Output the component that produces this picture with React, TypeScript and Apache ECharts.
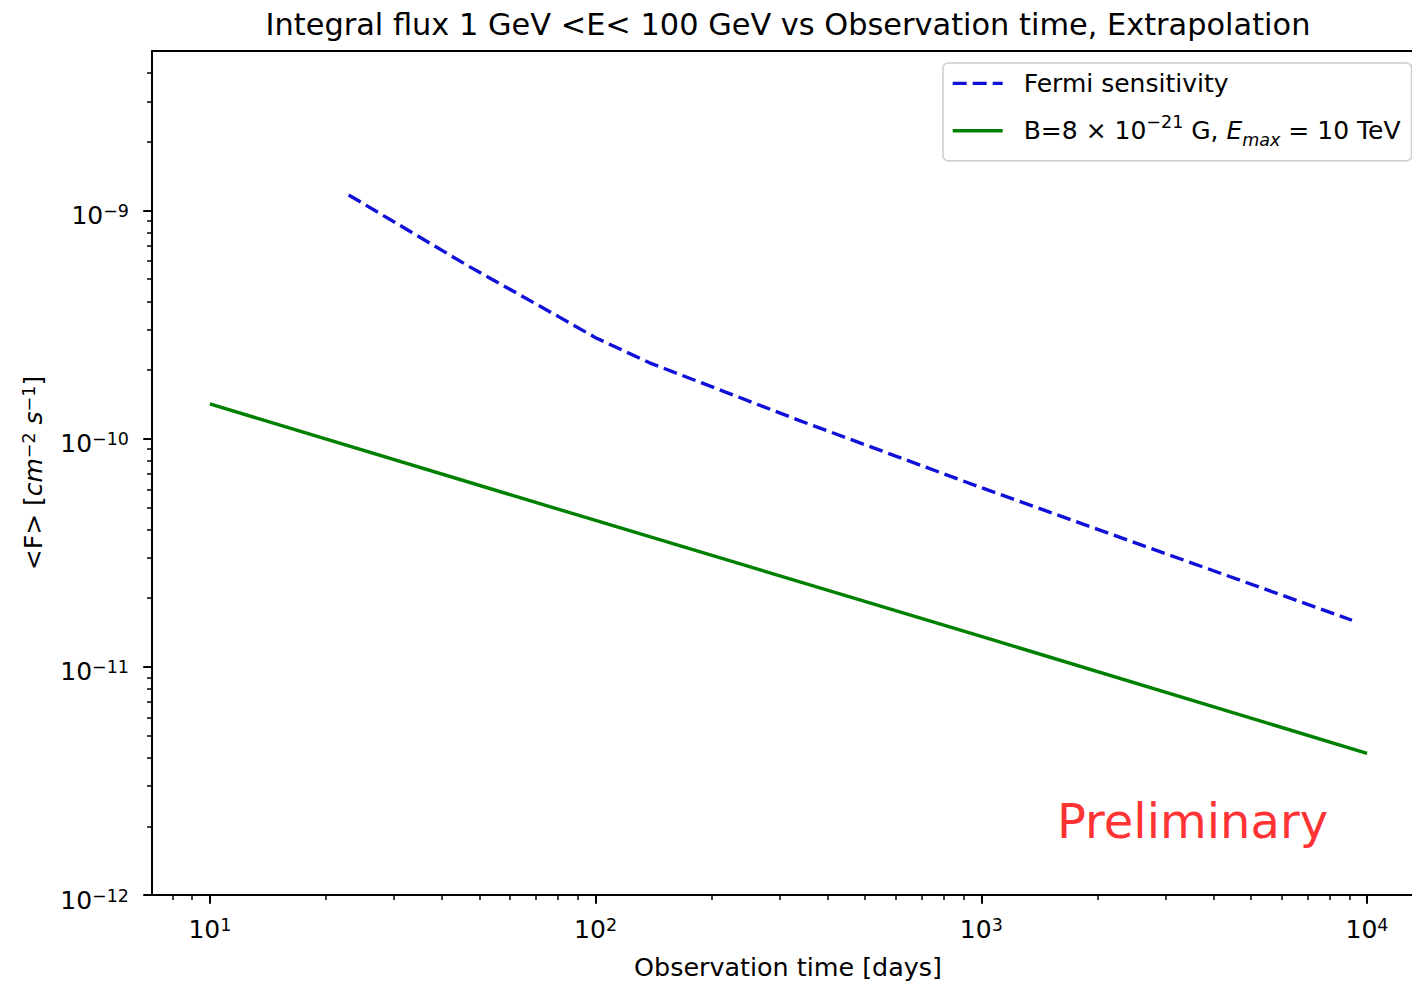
import React, { useEffect, useRef } from "react";
import * as echarts from "echarts";

// ---- data ----
const fermiDays = [22.9, 47.2, 80.8, 100, 138, 338, 1000, 2904, 9140];
const fermiFlux = [1.17e-9, 5.66e-10, 3.4e-10, 2.77e-10, 2.15e-10, 1.2e-10, 6.1e-11, 3.2e-11, 1.6e-11];
const modelDays = [10, 100, 1000, 10000];
const modelFlux = [1.42e-10, 4.38e-11, 1.36e-11, 4.18e-12];

const xMajorExps = [1, 2, 3, 4];
const yMajorExps = [-12, -11, -10, -9];
const minorMultipliers = [2, 3, 4, 5, 6, 7, 8, 9];
const xDecades = [0, 1, 2, 3, 4];
const yDecades = [-12, -11, -10, -9];

// axes range in log10 units (the right part of the plot is cut off at the picture edge)
const X_MIN = 0.85;
const X_MAX = 4.1166;
const Y_MIN = -12;
const Y_MAX = Math.log10(5e-9);

const seriesNames = ["Fermi sensitivity", "B=8 × 10−21 G, Emax = 10 TeV"];

const FONT = "DejaVu Sans";

function minorTicks(decades: number[], lo: number, hi: number) {
  const out: number[] = [];
  decades.forEach((d) =>
    minorMultipliers.forEach((m) => {
      const v = d + Math.log10(m);
      if (v >= lo - 1e-9 && v <= hi - 1e-6) out.push(v);
    })
  );
  return out;
}

const toLog = (xs: number[], ys: number[]) => xs.map((x, i) => [Math.log10(x), Math.log10(ys[i])]);

const expLabel = (v: number) => {
  const e = Math.round(v);
  const s = e < 0 ? "−" + Math.abs(e) : String(e);
  return "{b|10}{s|" + s + "}";
};

const tickRich = {
  b: { fontSize: 25, fontFamily: FONT, color: "#000", lineHeight: 26, verticalAlign: "bottom" },
  s: { fontSize: 17.5, fontFamily: FONT, color: "#000", lineHeight: 13, verticalAlign: "top" },
};

export default function App() {
  const ref = useRef<HTMLDivElement>(null);

  useEffect(() => {
    document.body.style.margin = "0";
    if (!ref.current) return;
    const chart = echarts.init(ref.current, undefined, { renderer: "svg" });

    const axisLine = { show: true, lineStyle: { color: "#000", width: 2 } };
    const baseX = { type: "value", min: X_MIN, max: X_MAX, splitLine: { show: false } };
    const baseY = { type: "value", min: Y_MIN, max: Y_MAX, splitLine: { show: false } };

    const option: any = {
      animation: false,
      backgroundColor: "#fff",
      grid: { left: 152, right: 0, top: 51, bottom: 87, containLabel: false },
      graphic: [
        {
          type: "text",
          x: 788,
          y: 24,
          style: {
            text: "Integral flux 1 GeV <E< 100 GeV vs Observation time, Extrapolation",
            fontFamily: FONT,
            fontSize: 30.4,
            fill: "#000",
            align: "center",
            verticalAlign: "middle",
            textAlign: "center",
            textVerticalAlign: "middle",
          },
        },
        {
          type: "text",
          x: 788,
          y: 967,
          style: {
            text: "Observation time [days]",
            fontFamily: FONT,
            fontSize: 25.4,
            fill: "#000",
            align: "center",
            verticalAlign: "middle",
            textAlign: "center",
            textVerticalAlign: "middle",
          },
        },
        {
          type: "text",
          x: 1057,
          y: 821,
          z: 10,
          style: {
            text: "Preliminary",
            fontFamily: FONT,
            fontSize: 48,
            fill: "#ff3333",
            align: "left",
            verticalAlign: "middle",
            textAlign: "left",
            textVerticalAlign: "middle",
          },
        },
      ],
      legend: {
        show: true,
        orient: "vertical",
        left: 943,
        top: 63,
        padding: [6, 11, 12, 8],
        itemGap: 15,
        itemWidth: 50,
        itemHeight: 36,
        backgroundColor: "rgba(255,255,255,0.8)",
        borderColor: "#cccccc",
        borderWidth: 1.5,
        borderRadius: 5,
        data: seriesNames,
        itemStyle: { opacity: 0 },
        lineStyle: { width: 3.4 },
        formatter: (name: string) =>
          name === seriesNames[0]
            ? "{g| }{t|Fermi sensitivity}"
            : "{g| }{t|B=8 × 10}{sp|−21}{t| G, }{it|E}{sb|max}{t| = 10 TeV}",
        textStyle: {
          fontFamily: FONT,
          fontSize: 25,
          color: "#000",
          rich: {
            g: { width: 16, fontSize: 25, lineHeight: 36 },
            t: { fontFamily: FONT, fontSize: 25, color: "#000", lineHeight: 36 },
            it: { fontFamily: FONT, fontStyle: "italic", fontSize: 25, color: "#000", lineHeight: 36 },
            sp: { fontFamily: FONT, fontSize: 17.5, color: "#000", lineHeight: 10, verticalAlign: "top" },
            sb: { fontFamily: FONT, fontStyle: "italic", fontSize: 17.5, color: "#000", lineHeight: 20, verticalAlign: "bottom" },
          },
        },
      },
      xAxis: [
        {
          ...baseX,
          position: "bottom",
          axisLine,
          axisTick: { show: true, inside: false, length: 8.75, customValues: xMajorExps, lineStyle: { color: "#000", width: 2 } },
          axisLabel: {
            show: true,
            customValues: xMajorExps,
            margin: 21,
            formatter: expLabel,
            rich: tickRich,
          },
        },
        {
          ...baseX,
          position: "bottom",
          axisLine: { show: false },
          axisTick: { show: true, inside: false, length: 5, customValues: minorTicks(xDecades, X_MIN, X_MAX), lineStyle: { color: "#000", width: 1.5 } },
          axisLabel: { show: false },
        },
        {
          ...baseX,
          position: "top",
          axisLine,
          axisTick: { show: false },
          axisLabel: { show: false },
        },
      ],
      yAxis: [
        {
          ...baseY,
          position: "left",
          axisLine,
          axisTick: { show: true, inside: false, length: 8.75, customValues: yMajorExps, lineStyle: { color: "#000", width: 2 } },
          axisLabel: {
            show: true,
            customValues: yMajorExps,
            margin: 23,
            padding: [9, 0, 0, 0],
            formatter: expLabel,
            rich: tickRich,
          },
          name: "{t|<F> [}{i|cm}{s|−2}{t| }{i|s}{s|−1}{t|]}",
          nameLocation: "middle",
          nameRotate: 90,
          nameGap: 106,
          nameTextStyle: {
            fontFamily: FONT,
            fontSize: 25,
            color: "#000",
            rich: {
              t: { fontFamily: FONT, fontSize: 25, color: "#000", lineHeight: 26, verticalAlign: "bottom" },
              i: { fontFamily: FONT, fontStyle: "italic", fontSize: 25, color: "#000", lineHeight: 26, verticalAlign: "bottom" },
              s: { fontFamily: FONT, fontSize: 17.5, color: "#000", lineHeight: 13, verticalAlign: "top" },
            },
          },
        },
        {
          ...baseY,
          position: "left",
          axisLine: { show: false },
          axisTick: { show: true, inside: false, length: 5, customValues: minorTicks(yDecades, Y_MIN, Y_MAX), lineStyle: { color: "#000", width: 1.5 } },
          axisLabel: { show: false },
        },
      ],
      series: [
        {
          name: seriesNames[0],
          type: "line",
          xAxisIndex: 0,
          yAxisIndex: 0,
          data: toLog(fermiDays, fermiFlux),
          symbol: "none",
          color: "#1010d8",
          lineStyle: { color: "#1010d8", width: 3.4, type: [14, 6] },
        },
        {
          name: seriesNames[1],
          type: "line",
          xAxisIndex: 0,
          yAxisIndex: 0,
          data: toLog(modelDays, modelFlux),
          symbol: "none",
          color: "#008000",
          lineStyle: { color: "#008000", width: 3.4, type: "solid" },
        },
      ],
    };

    chart.setOption(option);
    return () => chart.dispose();
  }, []);

  return <div ref={ref} style={{ width: 1412, height: 982 }} />;
}
